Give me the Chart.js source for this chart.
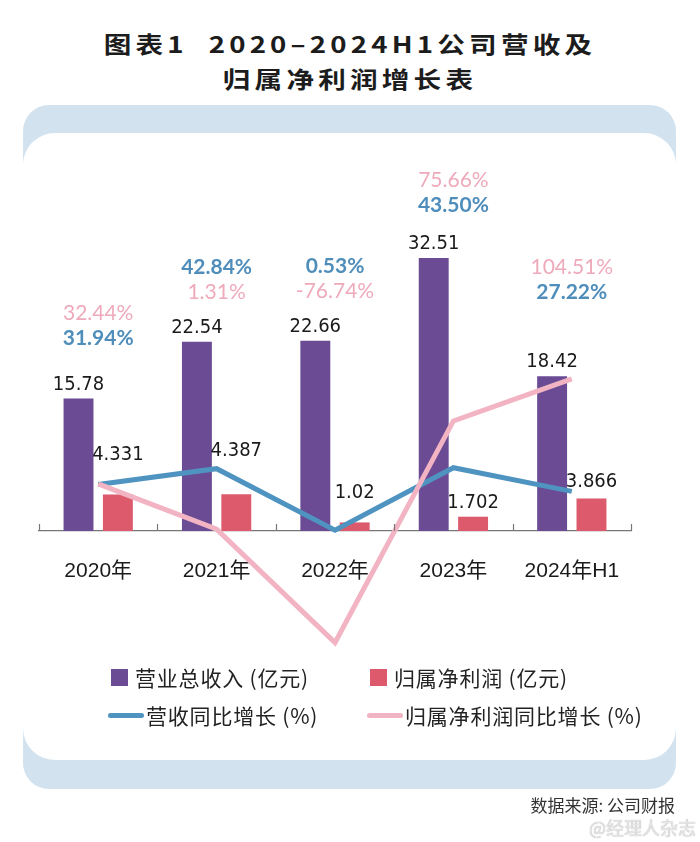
<!DOCTYPE html>
<html lang="zh">
<head>
<meta charset="UTF-8">
<title>图表1 2020-2024H1公司营收及归属净利润增长表</title>
<script src="https://cdn.jsdelivr.net/npm/chart.js"></script>
<style>
    body {
        margin: 0;
        width: 700px;
        height: 842px;
        position: relative;
        overflow: hidden;
        background: #fff;
        font-family: "Noto Sans CJK SC", sans-serif;
    }
    .title-line {
        position: absolute;
        left: 0;
        width: 700px;
        text-align: center;
        font-size: 23px;
        font-weight: bold;
        letter-spacing: 3.5px;
        color: #1c1c1c;
        transform: scaleX(1.2);
        transform-origin: 350px 0;
        line-height: 30px;
    }
    .panel {
        position: absolute;
        left: 23px;
        top: 105px;
        width: 653px;
        height: 684px;
        background: #d2e3ef;
        border-radius: 26px;
    }
    .panel-inner {
        position: absolute;
        left: 23px;
        top: 133px;
        width: 653px;
        height: 627px;
        background: #fff;
        border-radius: 32px;
    }
    .chart-box {
        position: absolute;
        left: 0;
        top: 0;
        width: 700px;
        height: 842px;
    }
    .legend {
        position: absolute;
        left: 108px;
        top: 658px;
        display: grid;
        grid-template-columns: 259px 290px;
        grid-auto-rows: 38px;
        font-size: 21px;
        letter-spacing: 0.8px;
        color: #222;
    }
    .legend-item {
        display: flex;
        align-items: center;
    }
    .legend-item .sq {
        width: 17px;
        height: 17px;
        margin-left: 3px;
        margin-right: 7px;
    }
    .legend-item .ln {
        width: 36px;
        height: 5px;
        border-radius: 3px;
        margin-right: 2px;
    }
    .source {
        position: absolute;
        right: 25px;
        top: 792px;
        font-size: 17px;
        color: #333;
    }
    .mark {
        position: absolute;
        right: 4px;
        top: 814px;
        font-size: 18px;
        color: #e6e6e6;
        text-shadow: 0 0 1px #999;
    }
</style>
</head>
<body>
    <div class="title-line" style="top:28px;">图表1&nbsp;&nbsp;2020–2024H1公司营收及</div>
    <div class="title-line" style="top:63px;">归属净利润增长表</div>
    <div class="panel"></div>
    <div class="panel-inner"></div>
    <div class="chart-box"><canvas id="growthChart"></canvas></div>
    <div class="legend" id="legend"></div>
    <div class="source">数据来源: 公司财报</div>
    <div class="mark">@经理人杂志</div>
<script>
    const years = ['2020年', '2021年', '2022年', '2023年', '2024年H1'];
    const revenue = [15.78, 22.54, 22.66, 32.51, 18.42];          // 亿元
    const netProfit = [4.331, 4.387, 1.02, 1.702, 3.866];         // 亿元
    const revenueGrowth = [31.94, 42.84, 0.53, 43.50, 27.22];     // %
    const profitGrowth = [32.44, 1.31, -76.74, 75.66, 104.51];    // %

    const PURPLE = '#6a4b94';
    const RED = '#dc5a6b';
    const BLUE = '#4f93c1';
    const PINK = '#f2b3c3';
    const BLUE_TEXT = '#4f8dbb';
    const PINK_TEXT = '#eeaabb';

    // label layout (px above the purple bar top / red bar top)
    const pctLift = [60, 49, 49, 53, 84];
    const pinkOnTop = [true, false, false, true, true];
    const redLabelLift = [40, 43, 30, 14, 17];

    // small tick marks pointing up at category boundaries
    const axisTicks = {
        id: 'axisTicks',
        afterDatasetsDraw(chart) {
            const x = chart.scales.x;
            const y0 = chart.scales.y.getPixelForValue(0);
            const ctx = chart.ctx;
            const n = x.ticks.length;
            const step = (x.right - x.left) / n;
            ctx.save();
            ctx.strokeStyle = '#777';
            ctx.lineWidth = 1.2;
            for (let i = 0; i <= n; i++) {
                const px = Math.round(x.left + i * step) + 0.5;
                ctx.beginPath();
                ctx.moveTo(px, y0);
                ctx.lineTo(px, y0 - 7);
                ctx.stroke();
            }
            ctx.restore();
        }
    };

    const valueLabels = {
        id: 'valueLabels',
        afterDraw(chart) {
            const ctx = chart.ctx;
            const x = chart.scales.x;
            const revMeta = chart.getDatasetMeta(0);
            const profMeta = chart.getDatasetMeta(1);
            ctx.save();
            ctx.textAlign = 'center';
            ctx.textBaseline = 'middle';
            ctx.fillStyle = '#1a1a1a';
            ctx.font = '20px "Liberation Sans Narrow", "DejaVu Sans Condensed", sans-serif';
            revMeta.data.forEach((bar, i) => {
                ctx.fillText(revenue[i].toFixed(2), bar.x, bar.y - 14);
            });
            profMeta.data.forEach((bar, i) => {
                ctx.fillText(String(netProfit[i]), bar.x, bar.y - redLabelLift[i]);
            });

            revMeta.data.forEach((bar, i) => {
                const cx = x.getPixelForValue(i);
                const lower = bar.y - pctLift[i];
                const upper = lower - 25;
                const blueY = pinkOnTop[i] ? lower : upper;
                const pinkY = pinkOnTop[i] ? upper : lower;
                ctx.font = 'bold 21px Lato, "Open Sans", sans-serif';
                ctx.fillStyle = BLUE_TEXT;
                ctx.fillText(revenueGrowth[i].toFixed(2) + '%', cx, blueY);
                ctx.font = '21px Lato, "Open Sans", sans-serif';
                ctx.fillStyle = PINK_TEXT;
                ctx.fillText(profitGrowth[i].toFixed(2) + '%', cx, pinkY);
            });
            ctx.restore();
        }
    };

    const chart = new Chart(document.getElementById('growthChart'), {
        data: {
            labels: years,
            datasets: [
                {
                    type: 'bar',
                    label: '营业总收入 (亿元)',
                    data: revenue,
                    backgroundColor: PURPLE,
                    yAxisID: 'y',
                    order: 3,
                    categoryPercentage: 0.665,
                    barPercentage: 0.76
                },
                {
                    type: 'bar',
                    label: '归属净利润 (亿元)',
                    data: netProfit,
                    backgroundColor: RED,
                    yAxisID: 'y',
                    order: 3,
                    categoryPercentage: 0.665,
                    barPercentage: 0.76
                },
                {
                    type: 'line',
                    label: '营收同比增长 (%)',
                    data: revenueGrowth,
                    borderColor: BLUE,
                    backgroundColor: BLUE,
                    borderWidth: 5,
                    pointRadius: 0,
                    tension: 0,
                    yAxisID: 'y2',
                    order: 2
                },
                {
                    type: 'line',
                    label: '归属净利润同比增长 (%)',
                    data: profitGrowth,
                    borderColor: PINK,
                    backgroundColor: PINK,
                    borderWidth: 5,
                    pointRadius: 0,
                    tension: 0,
                    yAxisID: 'y2',
                    order: 1
                }
            ]
        },
        options: {
            responsive: true,
            maintainAspectRatio: false,
            animation: false,
            layout: {
                padding: { left: 39, right: 69, top: 150, bottom: 192 }
            },
            plugins: {
                legend: { display: false },
                tooltip: { enabled: false }
            },
            scales: {
                x: {
                    type: 'category',
                    offset: true,
                    position: { y: 0 },
                    grid: { display: true, drawOnChartArea: false, drawTicks: false },
                    border: { display: true, color: '#777', width: 1.2 },
                    ticks: {
                        padding: 28,
                        color: '#1a1a1a',
                        font: { size: 21, family: '"Liberation Sans", "Noto Sans CJK SC", sans-serif' }
                    }
                },
                y: {
                    display: false,
                    min: -14.17,
                    max: 45.36
                },
                y2: {
                    display: false,
                    min: -81.8,
                    max: 261.9
                }
            }
        },
        plugins: [axisTicks, valueLabels]
    });

    // html legend built from the datasets
    const legendEl = document.getElementById('legend');
    chart.data.datasets.forEach(ds => {
        const item = document.createElement('div');
        item.className = 'legend-item';
        const marker = document.createElement('span');
        if (ds.type === 'bar') {
            marker.className = 'sq';
            marker.style.background = ds.backgroundColor;
        } else {
            marker.className = 'ln';
            marker.style.background = ds.borderColor;
        }
        item.appendChild(marker);
        item.appendChild(document.createTextNode(ds.label));
        legendEl.appendChild(item);
    });
</script>
</body>
</html>
